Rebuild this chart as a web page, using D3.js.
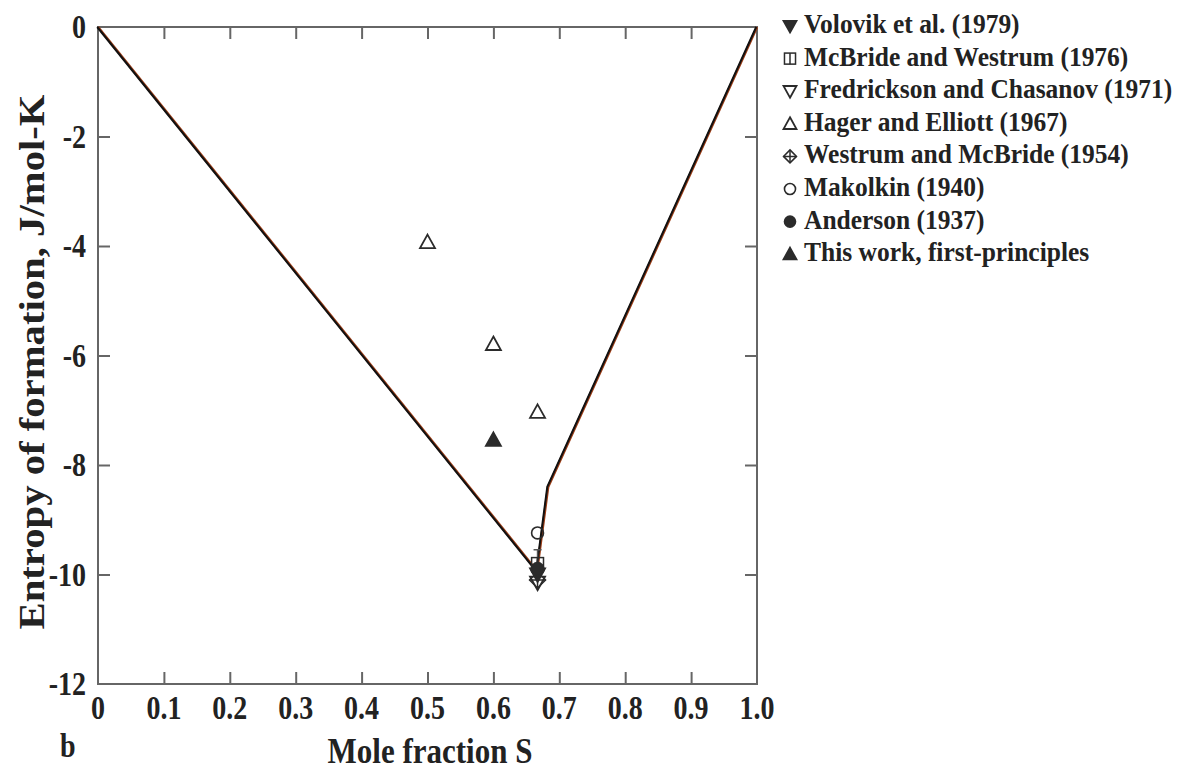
<!DOCTYPE html>
<html>
<head>
<meta charset="utf-8">
<script src="https://cdn.jsdelivr.net/npm/d3@7"></script>
<style>
  body { margin: 0; background: #fff; }
  text { font-family: "Liberation Serif", "DejaVu Serif", serif; font-weight: bold; fill: #222; }
</style>
</head>
<body>
<script>
// model curve (two branches meeting near S = 2/3)
const leftBranch = [[0, 0], [0.667, -9.95]];
const rightBranch = [[0.666, -9.95], [0.683, -8.4], [1.0, 0]];

// experimental / computed points
const hager = [[0.5, -3.93], [0.6, -5.79], [0.667, -7.03]];
const thisWork = [[0.6, -7.54]];
const makolkin = [[0.667, -9.24]];
const mcbride76 = [[0.667, -9.8]];
const mcbride76Err = [[0.667, -9.55, -10.0]];
const anderson = [[0.667, -9.9]];
const volovik = [[0.667, -10.0]];
const westrum54 = [[0.667, -10.1]];
const fredrickson = [[0.667, -10.15]];

const xTicks = [0, 0.1, 0.2, 0.3, 0.4, 0.5, 0.6, 0.7, 0.8, 0.9, 1.0];
const xTickLabels = ["0", "0.1", "0.2", "0.3", "0.4", "0.5", "0.6", "0.7", "0.8", "0.9", "1.0"];
const yTicks = [0, -2, -4, -6, -8, -10, -12];

const legendNames = [
    "Volovik et al. (1979)",
    "McBride and Westrum (1976)",
    "Fredrickson and Chasanov (1971)",
    "Hager and Elliott (1967)",
    "Westrum and McBride (1954)",
    "Makolkin (1940)",
    "Anderson (1937)",
    "This work, first-principles"
];
const legendSymbols = ["downFilled", "squareBar", "downOpen", "upOpen", "diamondCross", "circleOpen", "circleFilled", "upFilled"];

let width = 1179, height = 770;
let pLeft = 98, pRight = 757, pTop = 27, pBottom = 684;

let svg = d3.select("body").append("svg")
    .attr("width", width)
    .attr("height", height);

let x = d3.scaleLinear().domain([0, 1]).range([pLeft, pRight]);
let y = d3.scaleLinear().domain([-12, 0]).range([pBottom, pTop]);

const axisColor = "#666";
const ink = "#2b2b2b";
const stretch = 1.18;   // the original type is tall and narrow

// frame
svg.append("rect")
    .attr("x", pLeft).attr("y", pTop)
    .attr("width", pRight - pLeft).attr("height", pBottom - pTop)
    .attr("fill", "none").attr("stroke", axisColor).attr("stroke-width", 2);

// ticks, all pointing inward
let bottomAxis = d3.axisBottom(x).tickValues(xTicks.slice(1, -1)).tickSize(-12).tickFormat("");
let topAxis = d3.axisTop(x).tickValues(xTicks.slice(1, -1)).tickSize(-12).tickFormat("");
let leftAxis = d3.axisLeft(y).tickValues(yTicks.slice(1, -1)).tickSize(-12).tickFormat("");
let rightAxis = d3.axisRight(y).tickValues(yTicks.slice(1, -1)).tickSize(-12).tickFormat("");

[[bottomAxis, `translate(0,${pBottom})`], [topAxis, `translate(0,${pTop})`],
 [leftAxis, `translate(${pLeft},0)`], [rightAxis, `translate(${pRight},0)`]].forEach(([ax, tr]) => {
    let g = svg.append("g").attr("transform", tr).call(ax);
    g.select(".domain").remove();
    g.selectAll("line").attr("stroke", axisColor).attr("stroke-width", 2);
});

// tick labels
svg.append("g").selectAll("text").data(xTicks).join("text")
    .attr("transform", d => `translate(${x(d)},719) scale(1,${stretch})`)
    .attr("text-anchor", "middle")
    .attr("font-size", 28)
    .text((d, i) => xTickLabels[i]);

svg.append("g").selectAll("text").data(yTicks).join("text")
    .attr("transform", d => `translate(86,${y(d) + 11}) scale(1,${stretch})`)
    .attr("text-anchor", "end")
    .attr("font-size", 28)
    .text(d => d);

// axis titles
svg.append("text")
    .attr("transform", `translate(430,763) scale(1,${stretch})`)
    .attr("text-anchor", "middle")
    .attr("font-size", 31)
    .text("Mole fraction S");

svg.append("text")
    .attr("transform", `translate(60,757) scale(1,${stretch})`)
    .attr("font-size", 28)
    .text("b");

svg.append("text")
    .attr("transform", "translate(44,362) rotate(-90)")
    .attr("text-anchor", "middle")
    .attr("font-size", 36)
    .attr("textLength", 535)
    .attr("lengthAdjust", "spacingAndGlyphs")
    .text("Entropy of formation, J/mol-K");

// model line
let line = d3.line().x(d => x(d[0])).y(d => y(d[1]));
[leftBranch, rightBranch].forEach(b => {
    svg.append("path").datum(b)
        .attr("d", line)
        .attr("fill", "none")
        .attr("stroke", "#9a3b14")
        .attr("stroke-width", 2.6);
    svg.append("path").datum(b)
        .attr("d", line)
        .attr("transform", "translate(-0.8,0)")
        .attr("fill", "none")
        .attr("stroke", "#111")
        .attr("stroke-width", 2);
});

// symbol painter
function drawSymbol(g, kind, cx, cy, s) {
    let h = s / 2;
    if (kind === "upOpen" || kind === "upFilled") {
        g.append("path")
            .attr("d", `M${cx},${cy - h}L${cx + h},${cy + h * 0.8}L${cx - h},${cy + h * 0.8}Z`)
            .attr("fill", kind === "upFilled" ? ink : "none")
            .attr("stroke", ink).attr("stroke-width", 1.8);
    } else if (kind === "downOpen" || kind === "downFilled") {
        g.append("path")
            .attr("d", `M${cx},${cy + h}L${cx + h},${cy - h * 0.8}L${cx - h},${cy - h * 0.8}Z`)
            .attr("fill", kind === "downFilled" ? ink : "none")
            .attr("stroke", ink).attr("stroke-width", 1.8);
    } else if (kind === "circleOpen" || kind === "circleFilled") {
        g.append("circle")
            .attr("cx", cx).attr("cy", cy).attr("r", h * 0.85)
            .attr("fill", kind === "circleFilled" ? ink : "none")
            .attr("stroke", ink).attr("stroke-width", 1.6);
    } else if (kind === "squareBar") {
        g.append("rect")
            .attr("x", cx - h * 0.85).attr("y", cy - h * 0.85)
            .attr("width", h * 1.7).attr("height", h * 1.7)
            .attr("fill", "none").attr("stroke", ink).attr("stroke-width", 1.5);
        g.append("line")
            .attr("x1", cx).attr("x2", cx).attr("y1", cy - h * 0.85).attr("y2", cy + h * 0.85)
            .attr("stroke", ink).attr("stroke-width", 1.5);
    } else if (kind === "diamondCross") {
        g.append("path")
            .attr("d", `M${cx},${cy - h}L${cx + h},${cy}L${cx},${cy + h}L${cx - h},${cy}Z`)
            .attr("fill", "none").attr("stroke", ink).attr("stroke-width", 1.5);
        g.append("path")
            .attr("d", `M${cx - h},${cy}L${cx + h},${cy}M${cx},${cy - h}L${cx},${cy + h}`)
            .attr("stroke", ink).attr("stroke-width", 1.5);
    }
}

let marks = svg.append("g");

// error bar for McBride and Westrum
mcbride76Err.forEach(d => {
    marks.append("path")
        .attr("d", `M${x(d[0])},${y(d[1])}L${x(d[0])},${y(d[2])}M${x(d[0]) - 4},${y(d[1])}L${x(d[0]) + 4},${y(d[1])}`)
        .attr("stroke", "#555").attr("stroke-width", 1.5);
});

const seriesList = [
    [fredrickson, "downOpen", 15],
    [westrum54, "diamondCross", 16],
    [mcbride76, "squareBar", 14],
    [volovik, "downFilled", 15],
    [anderson, "circleFilled", 15],
    [makolkin, "circleOpen", 14],
    [hager, "upOpen", 15],
    [thisWork, "upFilled", 15]
];
seriesList.forEach(([data, kind, s]) => {
    data.forEach(d => drawSymbol(marks, kind, x(d[0]), y(d[1]), s));
});

// legend
let legend = svg.append("g");
legendNames.forEach((name, i) => {
    let ly = 24 + i * 32.6;
    drawSymbol(legend, legendSymbols[i], 790, ly + 2, 13);
    legend.append("text")
        .attr("transform", `translate(804,${ly + 9}) scale(1,1.08)`)
        .attr("font-size", 25.5)
        .text(name);
});
</script>
</body>
</html>
